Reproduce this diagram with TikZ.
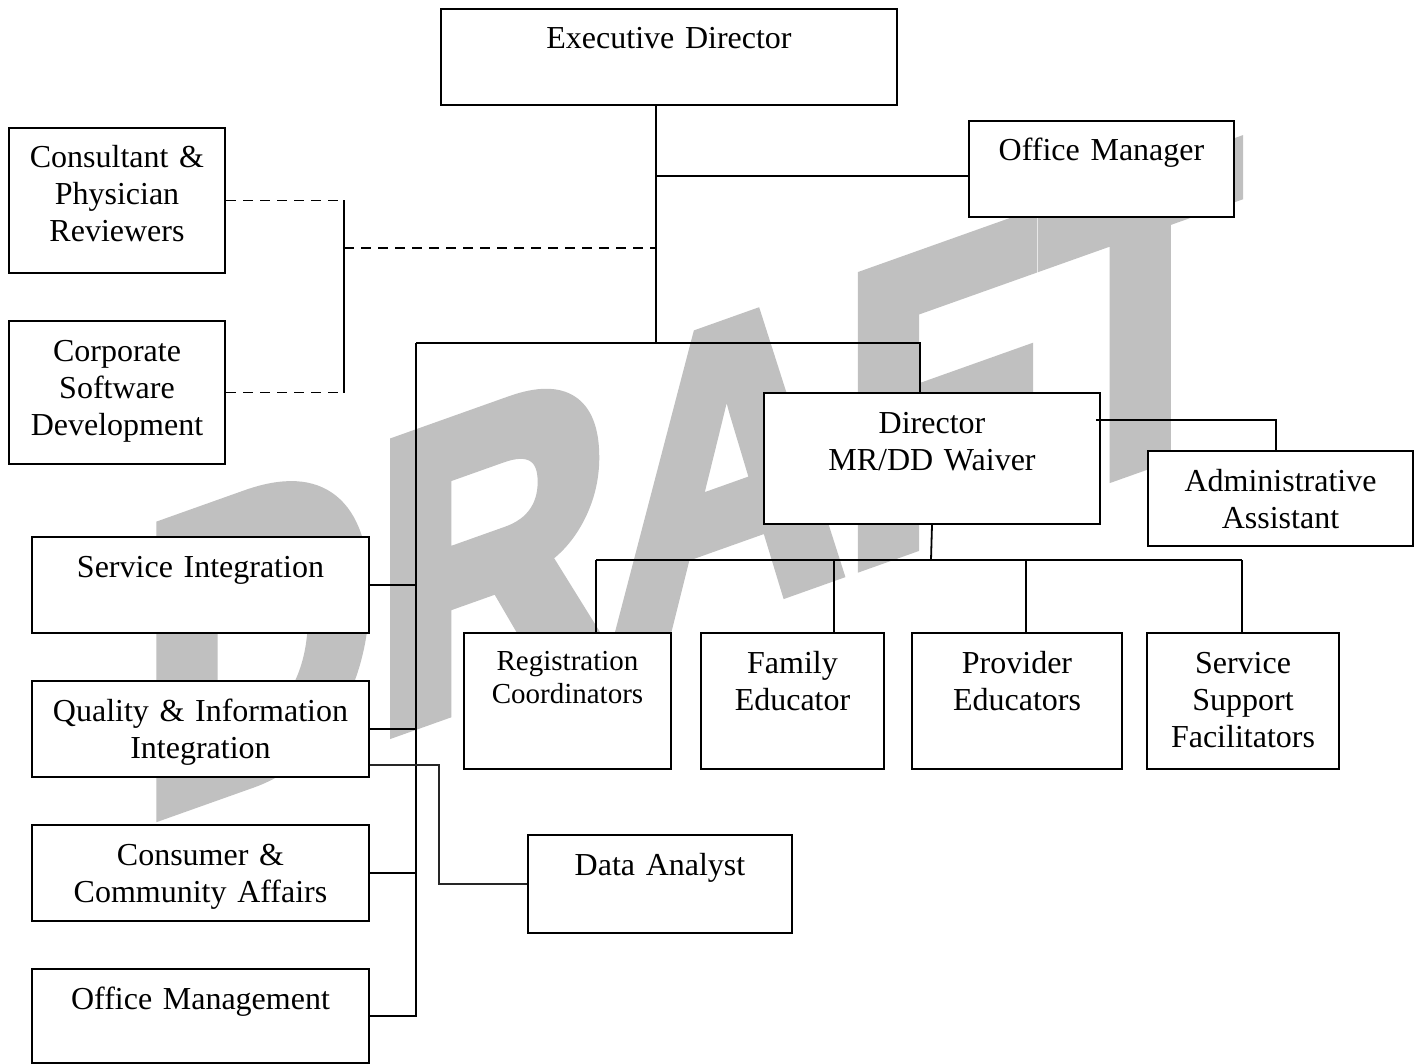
\documentclass[tikz,border=0pt]{standalone}
\usepackage{fontspec}
\setmainfont{Liberation Serif}
\newfontfamily\wmfont[FakeBold=4.5]{Liberation Sans Bold}
\definecolor{wmgray}{RGB}{192,192,192}
\begin{document}
\begin{tikzpicture}[x=0.5pt, y=-0.5pt,
  unit/.style={draw, line width=1pt, fill=white, inner sep=0pt, align=center,
    anchor=north west, text height=20pt,
    font=\fontsize{16pt}{18.5pt}\selectfont},
  small/.style={text height=18.5pt, font=\fontsize{14.5pt}{16.5pt}\selectfont},
  link/.style={line width=0.9pt},
  dotlink/.style={line width=0.9pt, dash pattern=on 5pt off 3.5pt},
  thinlink/.style={line width=0.7pt, black!85},
]
\useasboundingbox (0,0) rectangle (1419,1064);
\fill[white] (0,0) rectangle (1419,1064);

% slanted DRAFT watermark behind the chart
\begin{scope}[cm={0.790,0.281,0,1,(141.6,818.2)}]
  \node[transform shape, inner sep=0pt, anchor=base west, text=wmgray,
    font=\wmfont\fontsize{205pt}{205pt}\selectfont] (wm) at (0,0) {DRAFT};
\end{scope}

% boxes
\node[unit, text width=228pt, text depth=28pt] (exec) at (440,8) {Executive Director};
\node[unit, text width=132.5pt, text depth=28pt] (offmgr) at (968,120) {Office Manager};
\node[unit, text width=108pt, text depth=52.5pt] (consult) at (8,127) {Consultant \&\\Physician\\Reviewers};
\node[unit, text width=108pt, text depth=51.5pt] (corp) at (8,320) {Corporate\\Software\\Development};
\node[unit, text width=168pt, text depth=45.5pt] (director) at (763,392) {Director\\MR/DD Waiver};
\node[unit, text width=132.5pt, text depth=27.5pt] (admin) at (1147,450) {Administrative\\Assistant};
\node[unit, small, text width=103.5pt, text depth=49.5pt] (reg) at (463,632) {Registration\\Coordinators};
\node[unit, text width=91.5pt, text depth=48pt] (family) at (700,632) {Family\\Educator};
\node[unit, text width=105pt, text depth=48pt] (provider) at (911,632) {Provider\\Educators};
\node[unit, text width=96pt, text depth=48pt] (support) at (1146,632) {Service\\Support\\Facilitators};
\node[unit, text width=168.5pt, text depth=28pt] (svcint) at (31,536) {Service Integration};
\node[unit, text width=168.5pt, text depth=28pt] (quality) at (31,680) {Quality \& Information\\Integration};
\node[unit, text width=168.5pt, text depth=28pt] (consumer) at (31,824) {Consumer \&\\Community Affairs};
\node[unit, text width=168.5pt, text depth=27pt] (offmgmt) at (31,968) {Office Management};
\node[unit, text width=132pt, text depth=29pt] (data) at (527,834) {Data Analyst};

% junction points
\coordinate (hubC) at (656,343);
\coordinate (hubL) at (416,343);
\coordinate (hubR) at (920,343);
\coordinate (omj) at (656,176);
\coordinate (br1) at (344,200);
\coordinate (br3) at (344,248);
\coordinate (da1) at (1096,420);
\coordinate (da2) at (1276,420);
\coordinate (cb) at (931,560);
\coordinate (cL) at (596,560);
\coordinate (c2) at (834,560);
\coordinate (c3) at (1026,560);
\coordinate (cR) at (1242,560);
\coordinate (dk) at (439,765);

% executive line and office manager
\draw[link] (exec.south -| hubC) -- (hubC);
\draw[link] (omj) -- (omj -| offmgr.west);

% dotted advisory bracket
\draw[dotlink] (consult.east) -- (consult.east -| br1);
\draw[dotlink] (corp.east) -- (corp.east -| br1);
\draw[link] (consult.east -| br1) -- (corp.east -| br1);
\draw[dotlink] (br3) -- (br3 -| hubC);

% main bus
\draw[link] (hubL) -- (hubR) -- (hubR |- director.north);
\draw[link] (hubL) -- (hubL |- offmgmt.east) -- (offmgmt.east);
\draw[link] (svcint.east) -- (svcint.east -| hubL);
\draw[link] (quality.east) -- (quality.east -| hubL);
\draw[link] (consumer.east) -- (consumer.east -| hubL);

% data analyst
\draw[thinlink] (dk -| quality.east) -- (dk) -- (dk |- data.west) -- (data.west);

% director branch
\draw[link] (da1) -- (da2) -- (da2 |- admin.north);
\draw[link] (director.south) -- (cb);
\draw[link] (cL) -- (cR);
\draw[link] (cL) -- (cL |- reg.north);
\draw[link] (c2) -- (c2 |- family.north);
\draw[link] (c3) -- (c3 |- provider.north);
\draw[link] (cR) -- (cR |- support.north);
\end{tikzpicture}
\end{document}
